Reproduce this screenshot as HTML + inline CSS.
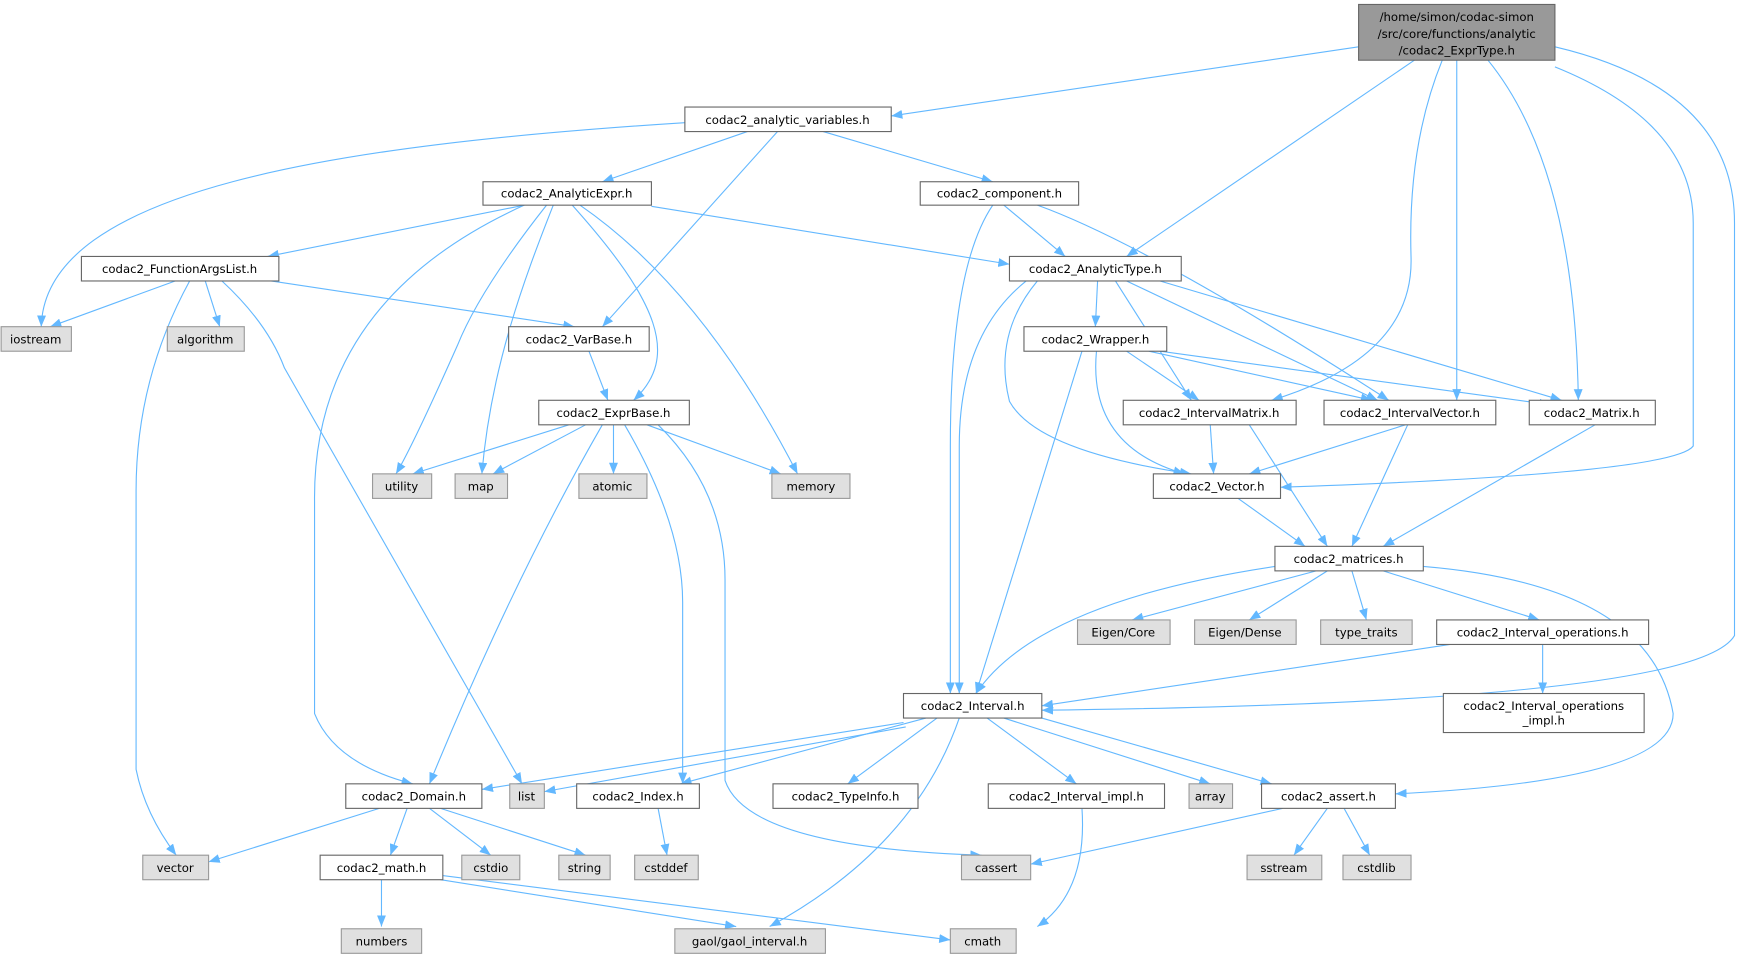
<!DOCTYPE html>
<html><head><meta charset="utf-8"><style>
html,body{margin:0;padding:0;background:#fff;}
svg{display:block;}
text{font-family:"DejaVu Sans","Liberation Sans",sans-serif;font-size:10.5px;fill:#000;text-anchor:middle;}
.n{fill:#fff;stroke:#666;stroke-width:1;}
.g{fill:#e0e0e0;stroke:#999;stroke-width:1;}
.e{fill:none;stroke:#63b8ff;stroke-width:1;marker-end:url(#a);}
</style></head><body>
<svg width="1749" height="960" viewBox="0 0 1568 861" preserveAspectRatio="none" xmlns="http://www.w3.org/2000/svg">
<defs><marker id="a" markerUnits="userSpaceOnUse" markerWidth="10" markerHeight="8" refX="10" refY="4" orient="auto"><path d="M0,0 L10,4 L0,8 Z" fill="#63b8ff"/></marker></defs>
<g>
<path class="e" d="M1218,42 L799,104"/>
<path class="e" d="M1268,54 L1010,230"/>
<path class="e" d="M1293,54 Q1262,130 1265,230 Q1268,320 1140,359"/>
<path class="e" d="M1306,54 L1306,359"/>
<path class="e" d="M1334,54 Q1412,150 1415,359"/>
<path class="e" d="M1394,60 Q1518,110 1518,200 L1518,400 Q1500,425 1148,437"/>
<path class="e" d="M1394,42 Q1555,80 1555,200 L1555,570 Q1520,630 934,637"/>
<path class="e" d="M614,110 C300,130 40,170 37,293"/>
<path class="e" d="M670,118 L540,163"/>
<path class="e" d="M738,118 L890,163"/>
<path class="e" d="M697,118 L540,293"/>
<path class="e" d="M470,184 L240,230"/>
<path class="e" d="M584,185 L905,237"/>
<path class="e" d="M470,184 Q280,270 282,450 L282,640 Q300,685 370,703"/>
<path class="e" d="M490,184 Q430,260 410,310 Q370,400 355,425"/>
<path class="e" d="M496,184 C470,250 440,330 432,425"/>
<path class="e" d="M513,184 C590,270 610,320 568,359"/>
<path class="e" d="M520,184 Q630,260 715,425"/>
<path class="e" d="M900,184 L955,230"/>
<path class="e" d="M890,184 Q852,240 852,400 L852,622"/>
<path class="e" d="M930,184 Q1030,220 1245,359"/>
<path class="e" d="M157,252 L45,293"/>
<path class="e" d="M184,252 L197,293"/>
<path class="e" d="M170,252 Q122,340 122,440 L122,690 Q130,730 158,767"/>
<path class="e" d="M199,252 Q240,290 255,330 L468,703"/>
<path class="e" d="M243,252 L515,293"/>
<path class="e" d="M984,252 L982,293"/>
<path class="e" d="M1000,252 L1068,359"/>
<path class="e" d="M1010,252 L1235,359"/>
<path class="e" d="M1040,252 L1400,359"/>
<path class="e" d="M930,252 Q890,300 905,360 Q930,405 1068,425"/>
<path class="e" d="M920,252 Q860,300 860,400 L860,622"/>
<path class="e" d="M528,315 L545,359"/>
<path class="e" d="M1010,315 L1075,359"/>
<path class="e" d="M1030,315 L1230,359"/>
<path class="e" d="M1040,315 L1390,363"/>
<path class="e" d="M983,315 Q975,400 1062,425"/>
<path class="e" d="M970,315 L875,622"/>
<path class="e" d="M510,381 L370,425"/>
<path class="e" d="M525,381 L442,425"/>
<path class="e" d="M550,381 L550,425"/>
<path class="e" d="M580,381 L700,425"/>
<path class="e" d="M540,381 Q460,520 385,703"/>
<path class="e" d="M560,381 Q612,470 612,540 L612,703"/>
<path class="e" d="M590,381 Q650,440 650,520 L650,700 Q670,760 880,767"/>
<path class="e" d="M1085,381 L1088,425"/>
<path class="e" d="M1120,381 L1190,490"/>
<path class="e" d="M1260,381 L1120,425"/>
<path class="e" d="M1262,381 L1212,490"/>
<path class="e" d="M1430,381 L1240,490"/>
<path class="e" d="M1110,447 L1170,490"/>
<path class="e" d="M1143,508 Q930,540 875,622"/>
<path class="e" d="M1180,512 L1015,556"/>
<path class="e" d="M1190,512 L1120,556"/>
<path class="e" d="M1212,512 L1225,556"/>
<path class="e" d="M1240,512 L1380,556"/>
<path class="e" d="M1276,508 Q1480,525 1500,640 Q1500,700 1251,712"/>
<path class="e" d="M1300,578 L934,633"/>
<path class="e" d="M1383,578 L1383,622"/>
<path class="e" d="M810,648 L432,708"/>
<path class="e" d="M812,652 L488,710"/>
<path class="e" d="M830,644 L610,703"/>
<path class="e" d="M840,644 L760,703"/>
<path class="e" d="M885,644 L965,703"/>
<path class="e" d="M900,644 L1085,703"/>
<path class="e" d="M934,644 L1140,703"/>
<path class="e" d="M860,644 Q820,760 690,831"/>
<path class="e" d="M340,725 L187,773"/>
<path class="e" d="M365,725 L350,767"/>
<path class="e" d="M385,725 L440,767"/>
<path class="e" d="M395,725 L525,767"/>
<path class="e" d="M590,725 L598,767"/>
<path class="e" d="M1150,725 L924,775"/>
<path class="e" d="M1190,725 L1160,767"/>
<path class="e" d="M1205,725 L1228,767"/>
<path class="e" d="M970,725 Q975,800 930,831"/>
<path class="e" d="M342,789 L342,831"/>
<path class="e" d="M395,789 L660,831"/>
<path class="e" d="M395,785 L852,843"/>
</g>
<g>
<rect x="1218" y="4" width="176" height="50" fill="#999" stroke="#666"/>
<text x="1306" y="19">/home/simon/codac-simon</text>
<text x="1306" y="34">/src/core/functions/analytic</text>
<text x="1306" y="49">/codac2_ExprType.h</text>

<rect class="n" x="614" y="96" width="185" height="22"/><text x="706" y="111">codac2_analytic_variables.h</text>
<rect class="n" x="433" y="163" width="151" height="21"/><text x="508" y="177">codac2_AnalyticExpr.h</text>
<rect class="n" x="825" y="163" width="142" height="21"/><text x="896" y="177">codac2_component.h</text>
<rect class="n" x="73" y="230" width="177" height="22"/><text x="161" y="245">codac2_FunctionArgsList.h</text>
<rect class="n" x="905" y="230" width="154" height="22"/><text x="982" y="245">codac2_AnalyticType.h</text>
<rect class="g" x="1" y="293" width="63" height="22"/><text x="32" y="308">iostream</text>
<rect class="g" x="150" y="293" width="69" height="22"/><text x="184" y="308">algorithm</text>
<rect class="n" x="456" y="293" width="126" height="22"/><text x="519" y="308">codac2_VarBase.h</text>
<rect class="n" x="918" y="293" width="128" height="22"/><text x="982" y="308">codac2_Wrapper.h</text>
<rect class="n" x="483" y="359" width="135" height="22"/><text x="550" y="374">codac2_ExprBase.h</text>
<rect class="n" x="1007" y="359" width="155" height="22"/><text x="1084" y="374">codac2_IntervalMatrix.h</text>
<rect class="n" x="1187" y="359" width="154" height="22"/><text x="1264" y="374">codac2_IntervalVector.h</text>
<rect class="n" x="1371" y="359" width="113" height="22"/><text x="1427" y="374">codac2_Matrix.h</text>
<rect class="g" x="334" y="425" width="53" height="22"/><text x="360" y="440">utility</text>
<rect class="g" x="408" y="425" width="47" height="22"/><text x="431" y="440">map</text>
<rect class="g" x="519" y="425" width="61" height="22"/><text x="549" y="440">atomic</text>
<rect class="g" x="692" y="425" width="70" height="22"/><text x="727" y="440">memory</text>
<rect class="n" x="1034" y="425" width="114" height="22"/><text x="1091" y="440">codac2_Vector.h</text>
<rect class="n" x="1143" y="490" width="133" height="22"/><text x="1209" y="505">codac2_matrices.h</text>
<rect class="g" x="966" y="556" width="83" height="22"/><text x="1007" y="571">Eigen/Core</text>
<rect class="g" x="1071" y="556" width="91" height="22"/><text x="1116" y="571">Eigen/Dense</text>
<rect class="g" x="1184" y="556" width="82" height="22"/><text x="1225" y="571">type_traits</text>
<rect class="n" x="1288" y="556" width="190" height="22"/><text x="1383" y="571">codac2_Interval_operations.h</text>
<rect class="n" x="810" y="622" width="124" height="22"/><text x="872" y="637">codac2_Interval.h</text>
<rect class="n" x="1294" y="622" width="180" height="35"/><text x="1384" y="637">codac2_Interval_operations</text><text x="1384" y="650">_impl.h</text>
<rect class="n" x="310" y="703" width="122" height="22"/><text x="371" y="718">codac2_Domain.h</text>
<rect class="g" x="457" y="703" width="31" height="22"/><text x="472" y="718">list</text>
<rect class="n" x="517" y="703" width="110" height="22"/><text x="572" y="718">codac2_Index.h</text>
<rect class="n" x="693" y="703" width="130" height="22"/><text x="758" y="718">codac2_TypeInfo.h</text>
<rect class="n" x="886" y="703" width="158" height="22"/><text x="965" y="718">codac2_Interval_impl.h</text>
<rect class="g" x="1066" y="703" width="39" height="22"/><text x="1085" y="718">array</text>
<rect class="n" x="1131" y="703" width="120" height="22"/><text x="1191" y="718">codac2_assert.h</text>
<rect class="g" x="128" y="767" width="59" height="22"/><text x="157" y="782">vector</text>
<rect class="n" x="287" y="767" width="110" height="22"/><text x="342" y="782">codac2_math.h</text>
<rect class="g" x="414" y="767" width="52" height="22"/><text x="440" y="782">cstdio</text>
<rect class="g" x="501" y="767" width="46" height="22"/><text x="524" y="782">string</text>
<rect class="g" x="569" y="767" width="57" height="22"/><text x="597" y="782">cstddef</text>
<rect class="g" x="862" y="767" width="62" height="22"/><text x="893" y="782">cassert</text>
<rect class="g" x="1118" y="767" width="67" height="22"/><text x="1151" y="782">sstream</text>
<rect class="g" x="1204" y="767" width="61" height="22"/><text x="1234" y="782">cstdlib</text>
<rect class="g" x="306" y="833" width="72" height="22"/><text x="342" y="848">numbers</text>
<rect class="g" x="605" y="833" width="135" height="22"/><text x="672" y="848">gaol/gaol_interval.h</text>
<rect class="g" x="852" y="833" width="59" height="22"/><text x="881" y="848">cmath</text>
</g>
</svg>
</body></html>
